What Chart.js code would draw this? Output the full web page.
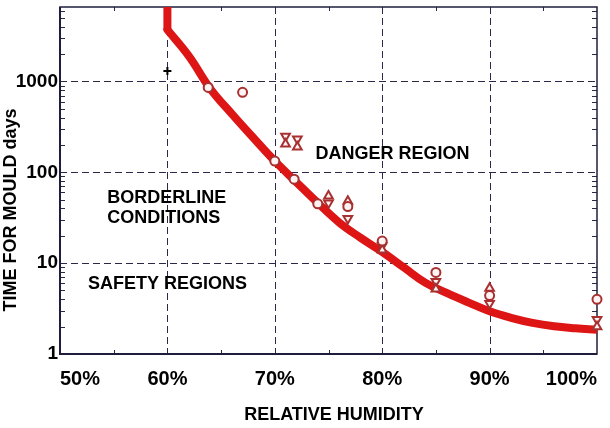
<!DOCTYPE html>
<html lang="en">
<head>
    <meta charset="UTF-8">
    <title>Time for mould</title>
    <style>
        body { margin: 0; background: #fff; }
    </style>
</head>
<body>
<div style="width:610px;height:428px">
    <canvas id="myChart" width="610" height="428"></canvas>
</div>

<script src="https://cdn.jsdelivr.net/npm/chart.js"></script>

<script>
    // fitted curve (relative humidity %, days)
    const curveRh   = [60, 62, 64, 66, 68, 70, 72, 74, 76, 78, 80, 82, 84, 86, 88, 90, 92, 94, 96, 98, 100];
    const curveDays = [3700, 1900, 830, 440, 240, 133, 78, 46, 28, 19, 13.3, 9.0, 6.1, 4.7, 3.7, 2.95, 2.5, 2.2, 2.02, 1.92, 1.85];
    // vertical part of the curve at 60%
    const edgeRh   = [60, 60];
    const edgeDays = [6600, 3700];

    // measured points
    const circleRh   = [63.8, 67, 70, 71.8, 74, 76.8, 80, 85, 90, 100];
    const circleDays = [860, 760, 133, 84, 45, 42, 17.5, 7.9, 4.4, 4.0];
    const upRh       = [71, 72.1, 75, 76.8, 80, 85, 90, 100];
    const upDays     = [205, 190, 55, 48, 14, 5.2, 5.3, 2.0];
    const downRh     = [71, 72.1, 75, 76.8, 80, 85, 90, 100];
    const downDays   = [250, 232, 46, 31, 15.5, 6.3, 3.6, 2.4];
    const plusRh     = [60];
    const plusDays   = [1300];

    // axes
    const rhTicks    = [50, 60, 70, 80, 90, 100];
    const rhGrid     = [60, 70, 80, 90];
    const rhMinor    = [55, 65, 75, 85, 95];
    const dayLabels  = [1, 10, 100, 1000];
    const dayGrid    = [10, 100, 1000];

    const pts = (xs, ys) => xs.map((v, i) => ({x: v, y: ys[i]}));
    const font = "'Liberation Sans', Arial, sans-serif";
    const markRed = '#a83030';

    const frame = {
        id: 'frame',
        beforeDatasetsDraw(chart) {
            const {ctx, chartArea: a, scales: {x, y}} = chart;
            ctx.save();
            ctx.strokeStyle = '#2a2a48';
            ctx.lineWidth = 1;
            ctx.setLineDash([7, 4]);
            rhGrid.forEach(v => {
                const px = Math.round(x.getPixelForValue(v)) + 0.5;
                ctx.beginPath(); ctx.moveTo(px, a.top); ctx.lineTo(px, a.bottom); ctx.stroke();
            });
            dayGrid.forEach(v => {
                const py = Math.round(y.getPixelForValue(v)) + 0.5;
                ctx.beginPath(); ctx.moveTo(a.left, py); ctx.lineTo(a.right, py); ctx.stroke();
            });
            ctx.setLineDash([]);

            // minor ticks
            rhMinor.forEach(v => {
                const px = Math.round(x.getPixelForValue(v)) + 0.5;
                ctx.beginPath();
                ctx.moveTo(px, a.bottom); ctx.lineTo(px, a.bottom - 4);
                ctx.moveTo(px, a.top); ctx.lineTo(px, a.top + 4);
                ctx.stroke();
            });
            [1, 10, 100, 1000].forEach(d => {
                for (let k = 2; k <= 9; k++) {
                    const v = d * k;
                    if (v > y.max) break;
                    const py = Math.round(y.getPixelForValue(v)) + 0.5;
                    ctx.beginPath();
                    ctx.moveTo(a.left, py); ctx.lineTo(a.left + 5, py);
                    ctx.moveTo(a.right, py); ctx.lineTo(a.right - 5, py);
                    ctx.stroke();
                }
            });

            // box
            ctx.strokeStyle = '#1e1e3c';
            ctx.lineWidth = 1.5;
            ctx.strokeRect(a.left, a.top, a.right - a.left, a.bottom - a.top);
            ctx.lineWidth = 2;
            ctx.beginPath();
            ctx.moveTo(a.left, a.top); ctx.lineTo(a.left, a.bottom); ctx.lineTo(a.right, a.bottom);
            ctx.stroke();
            ctx.restore();
        },
        afterDatasetsDraw(chart) {
            const {ctx, scales: {x, y}} = chart;
            ctx.save();
            ctx.fillStyle = '#000';
            ctx.font = 'bold 18px ' + font;
            ctx.textBaseline = 'middle';
            ctx.textAlign = 'left';
            ctx.fillText('DANGER REGION', x.getPixelForValue(73.8), y.getPixelForValue(158));
            ctx.fillText('BORDERLINE', x.getPixelForValue(54.4), y.getPixelForValue(52));
            ctx.fillText('CONDITIONS', x.getPixelForValue(54.4), y.getPixelForValue(31));
            ctx.fillText('SAFETY REGIONS', x.getPixelForValue(52.6), y.getPixelForValue(5.9));

            // axis titles
            ctx.textAlign = 'center';
            ctx.fillText('RELATIVE HUMIDITY', 334, 415);
            ctx.translate(11, 210);
            ctx.rotate(-Math.PI / 2);
            ctx.fillText('TIME FOR MOULD days', 0, 0);
            ctx.restore();
        }
    };

    const ctx = document.getElementById('myChart');

    new Chart(ctx, {
        type: 'scatter',
        data: {
            datasets: [
                {
                    data: pts(plusRh, plusDays),
                    pointStyle: 'cross',
                    pointRadius: 4,
                    borderColor: '#000',
                    borderWidth: 2
                },
                {
                    data: pts(circleRh, circleDays),
                    pointStyle: 'circle',
                    pointRadius: 4.5,
                    borderColor: markRed,
                    backgroundColor: '#fff4f4',
                    borderWidth: 2,
                    clip: false
                },
                {
                    data: pts(upRh, upDays),
                    pointStyle: 'triangle',
                    pointRadius: 5,
                    borderColor: markRed,
                    backgroundColor: '#fff4f4',
                    borderWidth: 2,
                    clip: false
                },
                {
                    data: pts(downRh, downDays),
                    pointStyle: 'triangle',
                    rotation: 180,
                    pointRadius: 5,
                    borderColor: markRed,
                    backgroundColor: '#fff4f4',
                    borderWidth: 2,
                    clip: false
                },
                {
                    data: pts(edgeRh, edgeDays),
                    showLine: true,
                    pointRadius: 0,
                    borderColor: '#dd1515',
                    borderWidth: 8
                },
                {
                    data: pts(curveRh, curveDays),
                    showLine: true,
                    pointRadius: 0,
                    borderColor: '#dd1515',
                    borderWidth: 8,
                    tension: 0.4,
                    borderCapStyle: 'round'
                }
            ]
        },
        options: {
            responsive: false,
            animation: false,
            layout: { padding: { top: 0, right: 13, left: 0, bottom: 0 } },
            plugins: {
                legend: { display: false },
                tooltip: { enabled: false }
            },
            scales: {
                x: {
                    type: 'linear',
                    min: 50,
                    max: 100,
                    grid: { display: false, drawTicks: false },
                    border: { display: false },
                    afterBuildTicks: s => { s.ticks = rhTicks.map(v => ({value: v})); },
                    afterFit: s => { s.height = 74; s.paddingLeft = 0; s.paddingRight = 0; },
                    ticks: {
                        align: 'inner',
                        padding: 13,
                        color: '#000',
                        font: { family: font, size: 20, weight: 'bold' },
                        callback: v => v + '%'
                    }
                },
                y: {
                    type: 'logarithmic',
                    min: 1,
                    max: 6600,
                    grid: { display: false, drawTicks: false },
                    border: { display: false },
                    afterBuildTicks: s => { s.ticks = dayLabels.map(v => ({value: v})); },
                    afterFit: s => { s.width = 60; s.paddingTop = 0; s.paddingBottom = 0; },
                    ticks: {
                        padding: 2,
                        color: '#000',
                        font: { family: font, size: 19, weight: 'bold' },
                        callback: v => String(v)
                    }
                }
            }
        },
        plugins: [frame]
    });
</script>

</body>
</html>
